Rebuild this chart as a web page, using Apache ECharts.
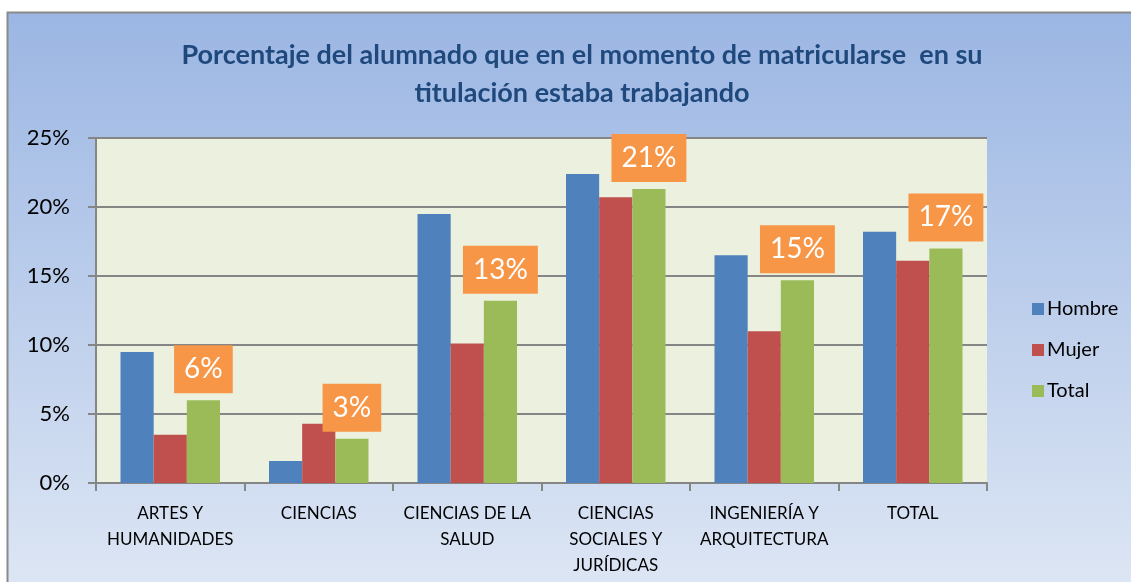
<!DOCTYPE html>
<html>
<head>
<meta charset="utf-8">
<script src="https://cdn.jsdelivr.net/npm/echarts@6/dist/echarts.min.js"></script>
<style>
  html, body { margin: 0; padding: 0; background: #fff; }
  #chart { width: 1131px; height: 582px; }
</style>
</head>
<body>
<div id="chart"></div>
<script>
// datos
const categorias = ['ARTES Y\nHUMANIDADES', 'CIENCIAS', 'CIENCIAS DE LA\nSALUD', 'CIENCIAS\nSOCIALES Y\nJURÍDICAS', 'INGENIERÍA Y\nARQUITECTURA', 'TOTAL']
const hombre = [9.5, 1.6, 19.5, 22.4, 16.5, 18.2]
const mujer = [3.5, 4.3, 10.1, 20.7, 11.0, 16.1]
const total = [6.0, 3.2, 13.2, 21.3, 14.7, 17.0]
const ticksY = [0, 5, 10, 15, 20, 25]

const fuente = 'Lato, "Noto Sans", sans-serif'
const mychart = echarts.init(document.getElementById('chart'))

mychart.setOption({
  animation: false,
  textStyle: { fontFamily: fuente },
  graphic: [
    {
      type: 'rect',
      z: -10,
      shape: { x: 7.5, y: 12.5, width: 1130, height: 575 },
      style: {
        fill: new echarts.graphic.LinearGradient(0, 0, 0, 1, [
          { offset: 0, color: '#9bb6e3' },
          { offset: 1, color: '#dde6f4' },
        ]),
        stroke: '#8a8a8a',
        lineWidth: 2,
      },
    },
  ],
  title: {
    text: 'Porcentaje del alumnado que en el momento de matricularse  en su\ntitulación estaba trabajando',
    left: 577,
    textAlign: 'center',
    top: 31,
    textStyle: {
      fontFamily: fuente,
      fontSize: 27,
      fontWeight: 'bold',
      color: '#1f497d',
      lineHeight: 38,
    },
  },
  legend: {
    orient: 'vertical',
    left: 1027,
    top: 294,
    itemWidth: 12,
    itemHeight: 12,
    itemGap: 21,
    icon: 'rect',
    textStyle: { fontSize: 20, color: '#000', fontFamily: fuente, padding: [0, 0, 0, -2] },
    data: ['Hombre', 'Mujer', 'Total'],
  },
  grid: {
    left: 96,
    right: 144,
    top: 138,
    bottom: 99,
    show: true,
    backgroundColor: '#ebf1de',
    borderWidth: 0,
  },
  xAxis: {
    type: 'category',
    data: categorias,
    axisLine: { lineStyle: { color: '#868686', width: 2 } },
    axisTick: { show: true, length: 8, lineStyle: { color: '#868686', width: 2 } },
    axisLabel: {
      interval: 0,
      margin: 18,
      fontSize: 17,
      lineHeight: 26,
      color: '#000',
      fontFamily: fuente,
    },
  },
  yAxis: {
    type: 'value',
    min: 0,
    max: 25,
    interval: 5,
    axisLine: { show: true, lineStyle: { color: '#868686', width: 2 } },
    axisTick: { show: true, length: 8, lineStyle: { color: '#868686', width: 2 } },
    splitLine: { lineStyle: { color: '#868686', width: 2 } },
    axisLabel: {
      margin: 26,
      fontSize: 22,
      color: '#000',
      fontFamily: fuente,
      formatter: (v) => (ticksY.includes(v) ? v + '%' : ''),
    },
  },
  series: [
    {
      type: 'bar',
      name: 'Hombre',
      data: hombre,
      barGap: '0%',
      barCategoryGap: '33%',
      itemStyle: { color: '#4f81bd' },
    },
    {
      type: 'bar',
      name: 'Mujer',
      data: mujer,
      itemStyle: { color: '#c0504d' },
    },
    {
      type: 'bar',
      name: 'Total',
      data: total,
      itemStyle: { color: '#9bbb59' },
      label: {
        show: true,
        position: 'top',
        distance: 7,
        backgroundColor: '#f79646',
        color: '#fff',
        fontSize: 28,
        lineHeight: 32,
        padding: [8, 10],
        fontFamily: fuente,
        formatter: (p) => Math.round(p.value) + '%',
      },
    },
  ],
})
</script>
</body>
</html>
